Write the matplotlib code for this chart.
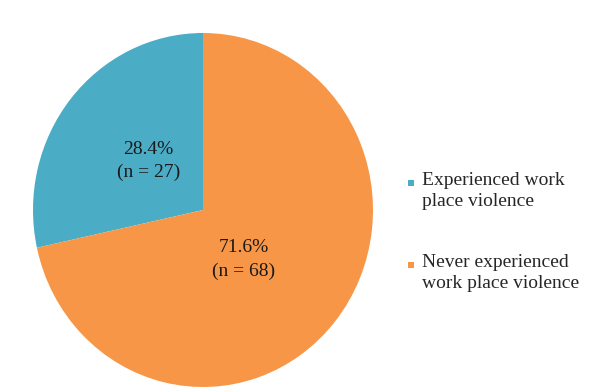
import matplotlib
matplotlib.use('Agg')
import matplotlib.pyplot as plt
from matplotlib.patches import Rectangle

labels = ['Experienced work\nplace violence', 'Never experienced\nwork place violence']
counts = [27, 68]
percents = [28.4, 71.6]
colors = ['#4BACC6', '#F79646']

plt.rcParams['font.family'] = ['Liberation Serif', 'DejaVu Serif']

fig = plt.figure(figsize=(5.89, 3.92), dpi=100)
W, H = 589, 392

# pie axes (the original is slightly taller than wide)
ax = fig.add_axes([33 / W, 5 / H, 340 / W, 354 / H])
ax.pie(counts, colors=colors, startangle=90, counterclock=True,
       wedgeprops=dict(linewidth=0))
ax.set_aspect('auto')
ax.set_xlim(-1, 1)
ax.set_ylim(-1, 1)
ax.axis('off')

# slice labels
label_pos = [(-0.32, 0.275), (0.24, -0.28)]
for (x, y), p, n in zip(label_pos, percents, counts):
    ax.text(x, y, f'{p:.1f}%\n(n = {n})', ha='center', va='center',
            fontsize=14, color='#1a1a1a', linespacing=1.45)

# legend
legend_y = [183, 265]
for lab, c, y in zip(labels, colors, legend_y):
    fig.patches.append(Rectangle(((411 - 3) / W, 1 - (y + 3) / H), 6 / W, 6 / H,
                                 transform=fig.transFigure, facecolor=c,
                                 edgecolor='none'))
    fig.text(422 / W, 1 - (y - 11) / H, lab, ha='left', va='top',
             fontsize=14, color='#262626', linespacing=1.3)

fig.savefig('out.png', dpi=100)
